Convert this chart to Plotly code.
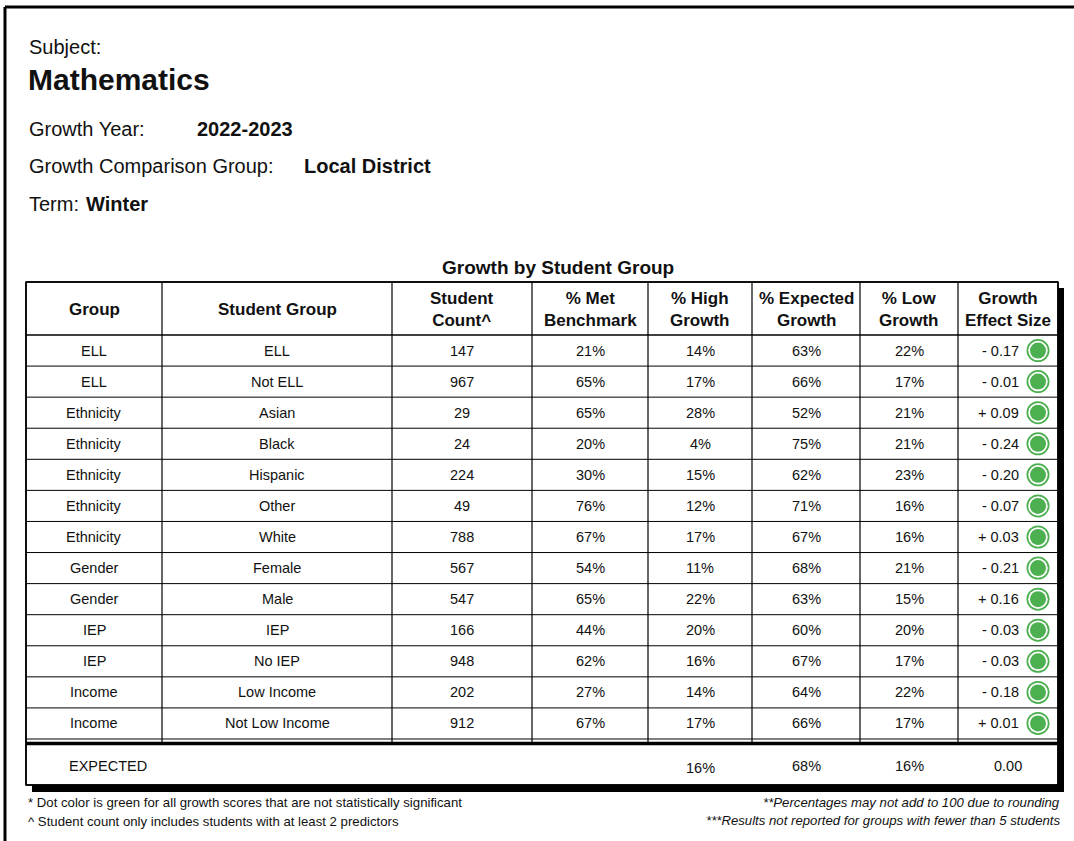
import plotly.graph_objects as go

# ---------------- data ----------------
subject = "Mathematics"
growth_year = "2022-2023"
comparison_group = "Local District"
term = "Winter"
table_title = "Growth by Student Group"

headers = ["Group", "Student Group", "Student<br>Count^", "% Met<br>Benchmark",
           "% High<br>Growth", "% Expected<br>Growth", "% Low<br>Growth", "Growth<br>Effect Size"]

groups = ["ELL", "ELL", "Ethnicity", "Ethnicity", "Ethnicity", "Ethnicity", "Ethnicity",
          "Gender", "Gender", "IEP", "IEP", "Income", "Income"]
student_groups = ["ELL", "Not ELL", "Asian", "Black", "Hispanic", "Other", "White",
                  "Female", "Male", "IEP", "No IEP", "Low Income", "Not Low Income"]
student_count = [147, 967, 29, 24, 224, 49, 788, 567, 547, 166, 948, 202, 912]
pct_met_benchmark = [21, 65, 65, 20, 30, 76, 67, 54, 65, 44, 62, 27, 67]
pct_high_growth = [14, 17, 28, 4, 15, 12, 17, 11, 22, 20, 16, 14, 17]
pct_expected_growth = [63, 66, 52, 75, 62, 71, 67, 68, 63, 60, 67, 64, 66]
pct_low_growth = [22, 17, 21, 21, 23, 16, 16, 21, 15, 20, 17, 22, 17]
effect_size = [-0.17, -0.01, 0.09, -0.24, -0.20, -0.07, 0.03, -0.21, 0.16, -0.03, -0.03, -0.18, 0.01]

expected_label = "EXPECTED"
expected_high = 16
expected_expected = 68
expected_low = 16
expected_effect = 0.00

footnotes_left = ["* Dot color is green for all growth scores that are not statistically significant",
                  "^ Student count only includes students with at least 2 predictors"]
footnotes_right = ["**Percentages may not add to 100 due to rounding",
                   "***Results not reported for groups with fewer than 5 students"]

# ---------------- layout constants ----------------
W, H = 1074, 841
FONT = "Liberation Sans, Arial, Helvetica, sans-serif"
TXT = "#111111"
GREEN = "#4CAF50"

COL_X = [26, 162, 392, 532, 648, 752, 860, 958, 1058]
T_TOP = 282
HDR_BOT = 335
ROWS_BOT = 739
T_BOT = 785
n = len(groups)
ROW_H = (ROWS_BOT - HDR_BOT) / n

shapes = []
anns = []


def line(x0, y0, x1, y1, w=1.0, c="black"):
    shapes.append(dict(type="line", xref="x", yref="y", x0=x0, y0=y0, x1=x1, y1=y1,
                       line=dict(color=c, width=w), layer="above"))


def rect(x0, y0, x1, y1, fill=None, lw=0, lc="black", layer="below"):
    d = dict(type="rect", xref="x", yref="y", x0=x0, y0=y0, x1=x1, y1=y1,
             line=dict(color=lc, width=lw), layer=layer)
    if fill:
        d["fillcolor"] = fill
    shapes.append(d)


def text(x, y, s, size, bold=False, italic=False, xa="center", color=TXT):
    if bold:
        s = f"<b>{s}</b>"
    if italic:
        s = f"<i>{s}</i>"
    anns.append(dict(x=x, y=y, xref="x", yref="y", text=s, showarrow=False,
                     xanchor=xa, yanchor="middle", align=xa,
                     font=dict(family=FONT, size=size, color=color)))


def fmt_effect(v):
    return f"{'+' if v >= 0 else '-'} {abs(v):.2f}"


# page frame
line(5, 7, W, 7, w=3)
line(5, 7, 5, H, w=3)

# header info
text(27, 47, "Subject:", 20, xa="left")
text(26, 79, subject, 30, bold=True, xa="left")
text(27, 129, "Growth Year:", 20, xa="left")
text(195, 129, growth_year, 20, bold=True, xa="left")
text(27, 166, "Growth Comparison Group:", 20, xa="left")
text(302, 166, comparison_group, 20, bold=True, xa="left")
text(27, 204, "Term:", 20, xa="left")
text(84, 204, term, 20, bold=True, xa="left")

# table title
text(558, 267, table_title, 19, bold=True)

# shadow + table body
rect(1058, 288, 1064, 792, fill="black")
rect(32, 785, 1064, 792, fill="black")
rect(COL_X[0], T_TOP, COL_X[-1], T_BOT, fill="white", lw=1.5, layer="below")

# grid
line(COL_X[0], T_TOP, COL_X[-1], T_TOP, w=1.5)
line(COL_X[0], HDR_BOT, COL_X[-1], HDR_BOT, w=1.5)
for i in range(1, n):
    y = HDR_BOT + i * ROW_H
    line(COL_X[0], y, COL_X[-1], y, w=1)
for x in COL_X[1:-1]:
    line(x, T_TOP, x, ROWS_BOT + 6, w=1.2)
line(COL_X[0], T_TOP, COL_X[0], T_BOT, w=1.5)
line(COL_X[-1], T_TOP, COL_X[-1], T_BOT, w=1.5)
line(COL_X[0], T_BOT, COL_X[-1], T_BOT, w=1.5)
# double separator before EXPECTED row
line(COL_X[0], ROWS_BOT, COL_X[-1], ROWS_BOT, w=1)
line(COL_X[0], ROWS_BOT + 4.5, COL_X[-1], ROWS_BOT + 4.5, w=3.5)

# header texts
centers = [(COL_X[i] + COL_X[i + 1]) / 2 for i in range(len(COL_X) - 1)]
HDR_Y = (T_TOP + HDR_BOT) / 2 + 1
for c, h in zip(centers, headers):
    text(c, HDR_Y, h, 17, bold=True)

# body
row_y = [HDR_BOT + (i + 0.5) * ROW_H for i in range(n)]
EFF_RIGHT = 1021
DOT_X = 1038
for i in range(n):
    y = row_y[i]
    text(centers[0], y, groups[i], 14.5)
    text(centers[1], y, student_groups[i], 14.5)
    text(centers[2], y, str(student_count[i]), 14.5)
    text(centers[3], y, f"{pct_met_benchmark[i]}%", 14.5)
    text(centers[4], y, f"{pct_high_growth[i]}%", 14.5)
    text(centers[5], y, f"{pct_expected_growth[i]}%", 14.5)
    text(centers[6], y, f"{pct_low_growth[i]}%", 14.5)
    text(EFF_RIGHT, y, fmt_effect(effect_size[i]), 14.5, xa="right")

# expected row
EXP_Y = (ROWS_BOT + 6 + T_BOT) / 2 + 1
text(67, EXP_Y, expected_label, 14.5, xa="left")
text(centers[4], EXP_Y + 2, f"{expected_high}%", 14.5)
text(centers[5], EXP_Y, f"{expected_expected}%", 14.5)
text(centers[6], EXP_Y, f"{expected_low}%", 14.5)
text(centers[7], EXP_Y, f"{expected_effect:.2f}", 14.5)

# footnotes
text(26, 802, footnotes_left[0], 13.2, xa="left")
text(26, 821, footnotes_left[1], 13.2, xa="left")
text(1062, 802, footnotes_right[0], 13.2, italic=True, xa="right")
text(1062, 820, footnotes_right[1], 13.2, italic=True, xa="right")

# dots (ring markers)
fig = go.Figure()
for size, color in [(23, GREEN), (19.5, "white"), (16, GREEN)]:
    fig.add_trace(go.Scatter(x=[DOT_X] * n, y=row_y, mode="markers",
                             marker=dict(size=size, color=color, line=dict(width=0)),
                             hoverinfo="skip", showlegend=False))

fig.update_layout(
    width=W, height=H, autosize=False,
    margin=dict(l=0, r=0, t=0, b=0),
    paper_bgcolor="white", plot_bgcolor="white",
    xaxis=dict(range=[0, W], visible=False, fixedrange=True),
    yaxis=dict(range=[H, 0], visible=False, fixedrange=True),
    shapes=shapes, annotations=anns, showlegend=False,
)

fig.write_html("out.html", config={"displayModeBar": False},
               post_script="document.body.style.margin='0';document.body.style.overflow='hidden';")
